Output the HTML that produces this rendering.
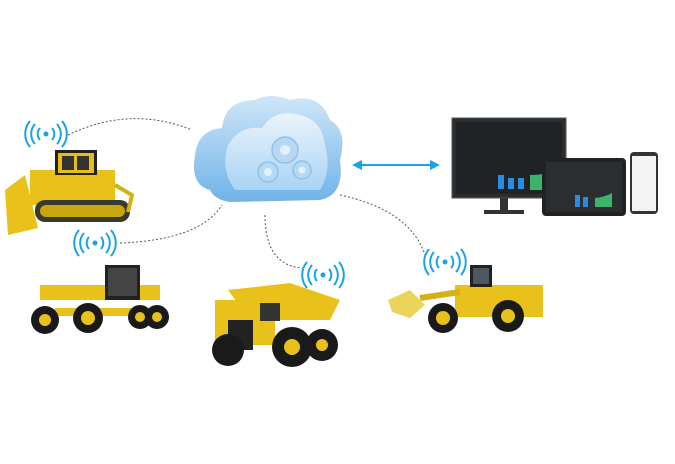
<!DOCTYPE html>
<html><head><meta charset="utf-8"><style>html,body{margin:0;padding:0;background:#fff;}svg{display:block}</style></head>
<body>
<svg width="675" height="464" viewBox="0 0 675 464" xmlns="http://www.w3.org/2000/svg">
<defs>
<linearGradient id="cl" x1="0" y1="0" x2="0" y2="1"><stop offset="0" stop-color="#cfe6f8"/><stop offset="1" stop-color="#6fb3e8"/></linearGradient>
<linearGradient id="ci" x1="0" y1="0" x2="0" y2="1"><stop offset="0" stop-color="#eaf4fc"/><stop offset="1" stop-color="#a9d3f3"/></linearGradient>
<g id="wifi" fill="none" stroke="#19a3e6" stroke-width="2">
<circle cx="0" cy="0" r="2.5" fill="#19a3e6" stroke="none"/>
<path d="M-6,-6 A9,9 0 0 0 -6,6 M6,-6 A9,9 0 0 1 6,6 M-11,-10 A15,15 0 0 0 -11,10 M11,-10 A15,15 0 0 1 11,10 M-16,-13 A20,20 0 0 0 -16,13 M16,-13 A20,20 0 0 1 16,13"/>
</g>
</defs>
<g fill="none" stroke="#555" stroke-width="1" stroke-dasharray="2,2">
<path d="M68,135 Q130,105 192,130"/>
<path d="M120,243 Q200,240 222,205"/>
<path d="M265,215 Q265,265 302,268"/>
<path d="M340,195 Q410,210 425,255"/>
</g>
<!-- cloud -->
<path d="M210,190 Q190,185 195,155 Q198,130 222,128 Q225,100 255,100 Q270,92 290,100 Q320,92 330,120 Q348,130 340,160 Q345,195 320,200 L230,202 Q215,200 210,190Z" fill="url(#cl)"/>
<path d="M235,190 Q220,170 228,145 Q240,125 262,128 Q275,108 300,115 Q322,120 325,145 Q332,170 320,190Z" fill="url(#ci)"/>
<g fill="#b6d8f3" stroke="#8fc2ea" stroke-width="1.5">
<circle cx="285" cy="150" r="13"/><circle cx="268" cy="172" r="10"/><circle cx="302" cy="170" r="9"/>
</g>
<g fill="#e3f1fb"><circle cx="285" cy="150" r="5"/><circle cx="268" cy="172" r="4"/><circle cx="302" cy="170" r="3.5"/></g>
<!-- arrow -->
<g stroke="#19a3e6" stroke-width="2" fill="#19a3e6">
<line x1="358" y1="165" x2="432" y2="165"/>
<path d="M352,165 L362,160 L362,170Z" stroke="none"/><path d="M440,165 L430,160 L430,170Z" stroke="none"/>
</g>
<!-- monitor -->
<rect x="452" y="118" width="114" height="80" fill="#2b2e31" stroke="#555"/>
<rect x="456" y="122" width="106" height="72" fill="#1f2326"/>
<rect x="498" y="175" width="6" height="14" fill="#2a8be0"/><rect x="508" y="178" width="6" height="11" fill="#2a8be0"/><rect x="518" y="178" width="6" height="11" fill="#2a8be0"/>
<path d="M530,190 L530,175 Q545,175 555,170 L555,190Z" fill="#3db36a"/>
<rect x="500" y="198" width="8" height="12" fill="#333"/><rect x="484" y="210" width="40" height="4" fill="#333"/>
<!-- tablet -->
<rect x="542" y="158" width="84" height="58" rx="4" fill="#222"/>
<rect x="546" y="162" width="76" height="50" fill="#2a2e31"/>
<rect x="575" y="195" width="5" height="12" fill="#2a8be0"/><rect x="583" y="197" width="5" height="10" fill="#2a8be0"/>
<path d="M595,207 L595,198 Q605,197 612,193 L612,207Z" fill="#3db36a"/>
<!-- phone -->
<rect x="630" y="152" width="28" height="62" rx="4" fill="#333"/>
<rect x="632" y="156" width="24" height="55" fill="#f3f3f3"/>
<!-- wifi icons -->
<use href="#wifi" x="46" y="134"/><use href="#wifi" x="95" y="243"/><use href="#wifi" x="323" y="275"/><use href="#wifi" x="445" y="262"/>
<!-- bulldozer -->
<g>
<path d="M5,190 L25,175 L38,228 L8,235Z" fill="#e8c21a"/>
<rect x="30" y="170" width="85" height="35" fill="#e8c21a"/>
<rect x="55" y="150" width="42" height="25" fill="#222"/><rect x="58" y="153" width="36" height="20" fill="#e5be18"/>
<rect x="62" y="156" width="12" height="14" fill="#333"/><rect x="77" y="156" width="12" height="14" fill="#333"/>
<rect x="35" y="200" width="95" height="22" rx="10" fill="#3a3a2a"/>
<rect x="40" y="205" width="85" height="12" rx="6" fill="#c9a510"/>
<path d="M115,185 L132,195 L128,212" stroke="#d4b116" stroke-width="4" fill="none"/>
</g>
<!-- grader -->
<g>
<rect x="40" y="285" width="120" height="15" fill="#e8c21a"/>
<rect x="105" y="265" width="35" height="35" fill="#222"/><rect x="108" y="268" width="29" height="28" fill="#444"/>
<rect x="55" y="308" width="90" height="8" fill="#e8c21a"/>
<circle cx="45" cy="320" r="14" fill="#1a1a1a"/><circle cx="45" cy="320" r="6" fill="#e8c21a"/>
<circle cx="88" cy="318" r="15" fill="#1a1a1a"/><circle cx="88" cy="318" r="7" fill="#e8c21a"/>
<circle cx="140" cy="317" r="12" fill="#1a1a1a"/><circle cx="157" cy="317" r="12" fill="#1a1a1a"/>
<circle cx="140" cy="317" r="5" fill="#e8c21a"/><circle cx="157" cy="317" r="5" fill="#e8c21a"/>
</g>
<!-- dump truck -->
<g>
<path d="M228,290 L290,283 L340,300 L330,320 L250,320Z" fill="#e8c21a"/>
<rect x="215" y="300" width="60" height="45" fill="#e8c21a"/>
<rect x="228" y="320" width="25" height="30" fill="#222"/>
<rect x="260" y="303" width="20" height="18" fill="#333"/>
<circle cx="228" cy="350" r="16" fill="#1a1a1a"/><circle cx="292" cy="347" r="20" fill="#1a1a1a"/><circle cx="322" cy="345" r="16" fill="#1a1a1a"/>
<circle cx="292" cy="347" r="8" fill="#e8c21a"/><circle cx="322" cy="345" r="6" fill="#e8c21a"/>
</g>
<!-- loader -->
<g>
<path d="M388,300 L410,290 L425,305 L410,318 L392,312Z" fill="#ecd35a"/>
<rect x="455" y="285" width="88" height="32" fill="#e8c21a"/>
<rect x="470" y="265" width="22" height="22" fill="#222"/><rect x="473" y="268" width="16" height="16" fill="#4a5a60"/>
<path d="M420,298 L460,292" stroke="#d4b116" stroke-width="6"/>
<circle cx="443" cy="318" r="15" fill="#1a1a1a"/><circle cx="443" cy="318" r="7" fill="#e8c21a"/>
<circle cx="508" cy="316" r="16" fill="#1a1a1a"/><circle cx="508" cy="316" r="7" fill="#e8c21a"/>
</g>
</svg>
</body></html>
